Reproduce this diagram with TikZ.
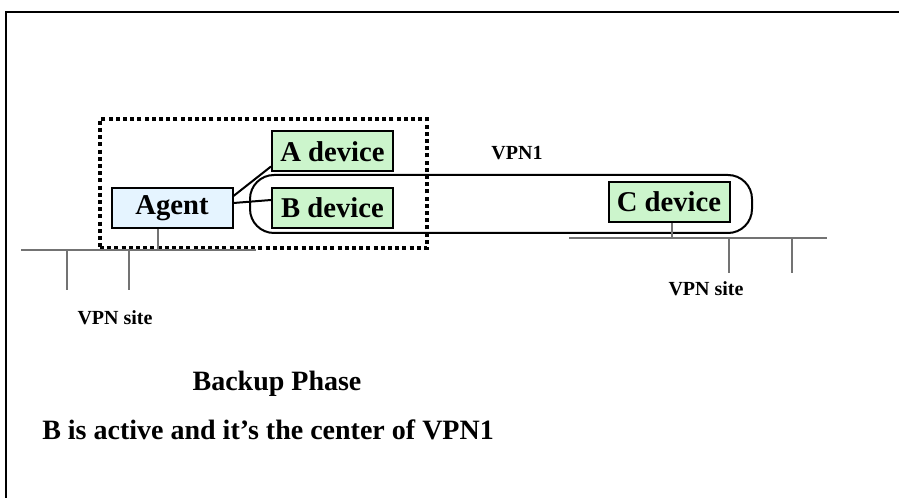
\documentclass[tikz,border=0pt]{standalone}
\usepackage{fontspec}
\setmainfont{Liberation Serif}
\usetikzlibrary{positioning,calc}
\definecolor{agentblue}{RGB}{229,244,255}
\definecolor{devgreen}{RGB}{204,245,204}
\tikzset{
  dev/.style={draw, fill=devgreen, line width=1.5pt, font=\fontsize{21.5}{24}\selectfont\bfseries, inner sep=0pt, minimum width=90.75pt, minimum height=30pt},
  agentbox/.style={dev, fill=agentblue},
  grp/.style={draw, dash pattern=on 3pt off 2.4pt, line width=2.6pt, inner sep=0pt, minimum width=245.25pt, minimum height=96.75pt},
  vpnloop/.style={draw, rounded corners=18pt, line width=1.5pt, inner sep=0pt, minimum width=376.5pt, minimum height=43.5pt},
  lan/.style={draw=black!55, line width=0.8pt},
  lnk/.style={line width=1.5pt},
  small/.style={font=\fontsize{15}{18}\selectfont\bfseries, inner sep=0pt},
  big/.style={font=\fontsize{21}{24}\selectfont\bfseries, inner sep=0pt},
}
\begin{document}
\begin{tikzpicture}[x=0.75pt, y=-0.75pt]
\useasboundingbox (0,0) rectangle (899,498);
\draw[line width=1.6pt] (6,498) -- (6,12) -- (899,12);
% agent site
\node[grp] (site) at (263.5,183.5) {};
\node[vpnloop] (vpn) at (501,204) {};
\node[agentbox] (agent) at (172,208) {Agent};
\node[dev] (adev) at (332.5,151.5) {A device};
\node[dev] (bdev) at (332.5,208) {B device};
\node[dev] (cdev) at (669,202) {C device};
\node[small] (vpnlbl) at (517,153) {VPN1};
\draw[lnk] ($(agent.north east)+(0,9)$) -- ($(adev.south west)+(0,-6)$);
\draw[lnk] ($(agent.east)+(0,-5)$) -- ($(bdev.west)+(0,-8)$);
% LANs
\coordinate (lanL1) at (21,250); \coordinate (lanL2) at (256,250);
\coordinate (lanR1) at (569,238); \coordinate (lanR2) at (827,238);
\coordinate (agentdrop) at ($(agent.south)+(-14,0)$);
\coordinate (cdrop) at ($(cdev.south)+(3,0)$);
\draw[lan] (lanL1) -- (lanL2);
\draw[lan] (agentdrop) -- (agentdrop |- lanL1);
\draw[lan] (67,250) -- (67,290);
\draw[lan] (129,250) -- (129,290);
\draw[lan] (lanR1) -- (lanR2);
\draw[lan] (cdrop) -- (cdrop |- lanR1);
\draw[lan] (729,238) -- (729,273);
\draw[lan] (792,238) -- (792,273);
\node[small] (siteL) at (115,318) {VPN site};
\node[small] (siteR) at (706,289) {VPN site};
% captions
\node[big] (phase) at (277,384) {Backup Phase};
\node[big, anchor=west] (note) at (42,430) {B is active and it’s the center of VPN1};
\end{tikzpicture}
\end{document}
